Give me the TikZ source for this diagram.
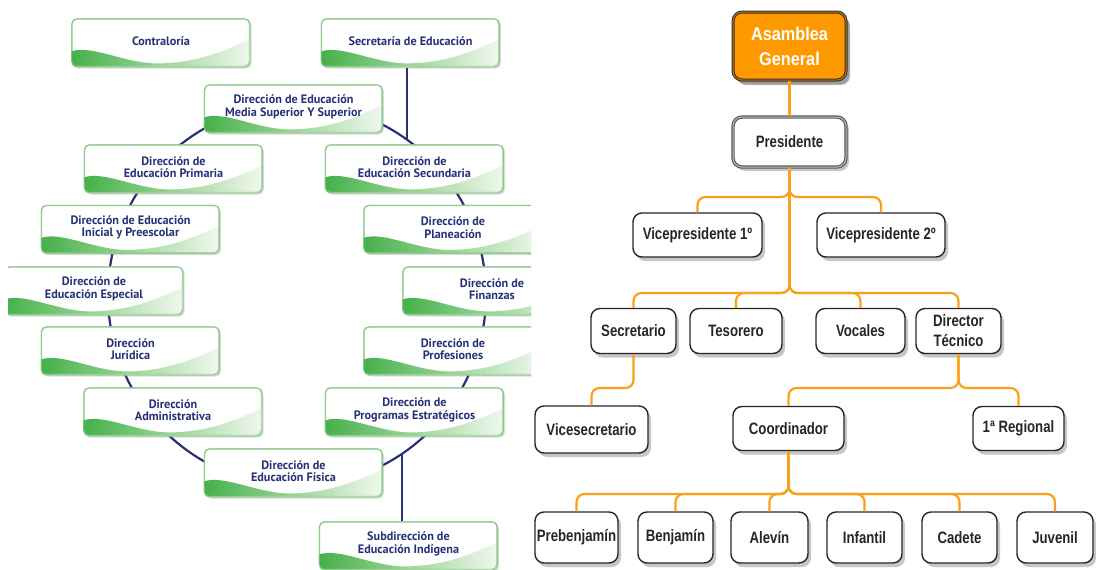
\documentclass[tikz,border=0pt]{standalone}
\usepackage{fontspec}
\newfontfamily\dirfont{PT Sans}
\newfontfamily\clubfont[FakeStretch=0.8]{Liberation Sans}
\newfontfamily\asamfont[FakeStretch=0.88]{Liberation Sans}
\usetikzlibrary{shadows}
\definecolor{navy}{HTML}{263177}
\definecolor{leaf}{HTML}{45B04A}
\definecolor{leafmid}{HTML}{9BD597}
\definecolor{leaflight}{HTML}{F0F8EE}
\definecolor{leafline}{HTML}{8FCB8C}
\definecolor{amber}{HTML}{F9A11B}
\definecolor{asamfill}{HTML}{FF9900}
\tikzset{
  dirbox/.style={draw=leafline, line width=1.2pt, fill=white, rounded corners=5pt,
    minimum width=178pt, minimum height=48pt, inner sep=0pt,
    drop shadow={opacity=.25, shadow xshift=1.5pt, shadow yshift=-1.5pt}},
  wave/.style={left color=leaf, right color=leaflight, middle color=leafmid},
  dirtext/.style={font=\dirfont\bfseries\fontsize{12.2}{12.5}\selectfont, text=navy, align=center},
  ring/.style={draw=navy, line width=2.2pt},
  clubbox/.style={draw=black!85, line width=1.4pt, fill=white, rounded corners=9pt, inner sep=0pt,
    font=\clubfont\bfseries\fontsize{16.5}{20}\selectfont, text=black!85, align=center,
    drop shadow={opacity=.45, shadow xshift=3pt, shadow yshift=-4pt}},
  link/.style={draw=amber, line width=2.2pt, rounded corners=8pt},
}
% box with the green wave, its text a little above the middle
\newcommand\dirnode[4]{%
  \node[dirbox] (#1) at (#2,#3) {};
  \begin{scope}[shift={(#1.north west)}]
    \clip[rounded corners=5pt] (0,0) rectangle (178,48);
    \shade[wave] (0,33) .. controls (21,26) and (55,46) .. (89,45)
      .. controls (125,44) and (150,34) .. (178,21) -- (178,48) -- (0,48) -- cycle;
    \draw[leafline, line width=1.2pt, rounded corners=5pt] (0,0) rectangle (178,48);
  \end{scope}
  \node[dirtext] (#1-t) at ([yshift=2pt]#1.center) {#4};}
\begin{document}
\begin{tikzpicture}[x=1pt, y=-1pt, line join=round]
\useasboundingbox (0,0) rectangle (1096,570);
% education chart
\begin{scope}
  \clip (8,0) rectangle (531,570);
  \draw[ring] (297,295) ellipse [x radius=189, y radius=191];
  \dirnode{contra}{161}{43}{Contraloría}
  \dirnode{secre}{410.5}{43}{Secretaría de Educación}
  \dirnode{media}{293.5}{109}{Dirección de Educación\\Media Superior Y Superior}
  \dirnode{prim}{173.5}{169}{Dirección de\\Educación Primaria}
  \dirnode{secu}{414.5}{169}{Dirección de\\Educación Secundaria}
  \dirnode{inic}{130.5}{229.5}{Dirección de Educación\\Inicial y Preescolar}
  \dirnode{plan}{453}{229.5}{Dirección de\\Planeación}
  \dirnode{espe}{94}{291}{Dirección de\\Educación Especial}
  \dirnode{fina}{492}{291}{Dirección de\\Finanzas}
  \dirnode{juri}{130.5}{351}{Dirección\\Jurídica}
  \dirnode{prof}{453}{351}{Dirección de\\Profesiones}
  \dirnode{admi}{173}{412}{Dirección\\Administrativa}
  \dirnode{prog}{414.5}{412}{Dirección de\\Programas Estratégicos}
  \dirnode{fisi}{293.5}{473}{Dirección de\\Educación Física}
  \dirnode{subd}{408.5}{546}{Subdirección de\\Educación Indígena}
  \coordinate (topjoin) at (407,140);
  \coordinate (botjoin) at (402,454);
  \draw[ring] (topjoin |- secre.south) -- (topjoin);
  \draw[ring] (botjoin) -- (botjoin |- subd.north);
\end{scope}
% club chart
\node[clubbox, minimum width=113pt, minimum height=68pt, fill=asamfill, draw=black!80,
  double=asamfill!75!black, double distance=1pt, line width=1pt, text=white,
  font=\asamfont\bfseries\fontsize{18.5}{25}\selectfont,
  drop shadow={opacity=.6, shadow xshift=4pt, shadow yshift=-5pt}] (asam) at (789.5,46) {Asamblea\\General};
\node[clubbox, minimum width=113pt, minimum height=50pt, draw=black!65,
  double=black!25, double distance=1pt, line width=1.2pt] (pres) at (789.5,142) {Presidente};
\node[clubbox, minimum width=129pt, minimum height=44pt] (vice1) at (697.5,235) {Vicepresidente 1º};
\node[clubbox, minimum width=128pt, minimum height=44pt] (vice2) at (881,235) {Vicepresidente 2º};
\foreach \nm/\lbl/\x/\w in {secr/Secretario/633.5/85, teso/Tesorero/736/92, voca/Vocales/860.5/89,
  dirt/{Director\\Técnico}/958.5/85}
  \node[clubbox, minimum width={\w pt}, minimum height=45pt] (\nm) at (\x,331) {\lbl};
\node[clubbox, minimum width=113pt, minimum height=47pt] (vices) at (591.5,429.5) {Vicesecretario};
\node[clubbox, minimum width=111pt, minimum height=44pt] (coor) at (788.5,428.5) {Coordinador};
\node[clubbox, minimum width=91pt, minimum height=44pt] (regi) at (1018.5,428.5) {1ª Regional};
\foreach \nm/\lbl/\x/\w in {preb/Prebenjamín/576.5/83, benj/Benjamín/675.5/75, alev/Alevín/769.5/77,
  infa/Infantil/864.5/75, cade/Cadete/959.5/75, juve/Juvenil/1055/76}
  \node[clubbox, minimum width={\w pt}, minimum height=51pt] (\nm) at (\x,537.5) {\lbl};
\coordinate (b1) at (789.5,197);
\coordinate (b2) at (789.5,293);
\coordinate (b3) at (958.5,388);
\coordinate (b4) at (788.5,494);
\draw[link] (asam.south) -- (pres.north);
\foreach \nm in {vice1,vice2} \draw[link] (pres.south) -- (b1) -| (\nm.north);
\foreach \nm in {secr,teso,voca,dirt} \draw[link] (pres.south) -- (b2) -| (\nm.north);
\draw[link] (secr.south) -- (secr.south |- b3) -| (vices.north);
\foreach \nm in {coor,regi} \draw[link] (dirt.south) -- (b3) -| (\nm.north);
\foreach \nm in {preb,benj,alev,infa,cade,juve} \draw[link] (coor.south) -- (b4) -| (\nm.north);
\end{tikzpicture}
\end{document}
